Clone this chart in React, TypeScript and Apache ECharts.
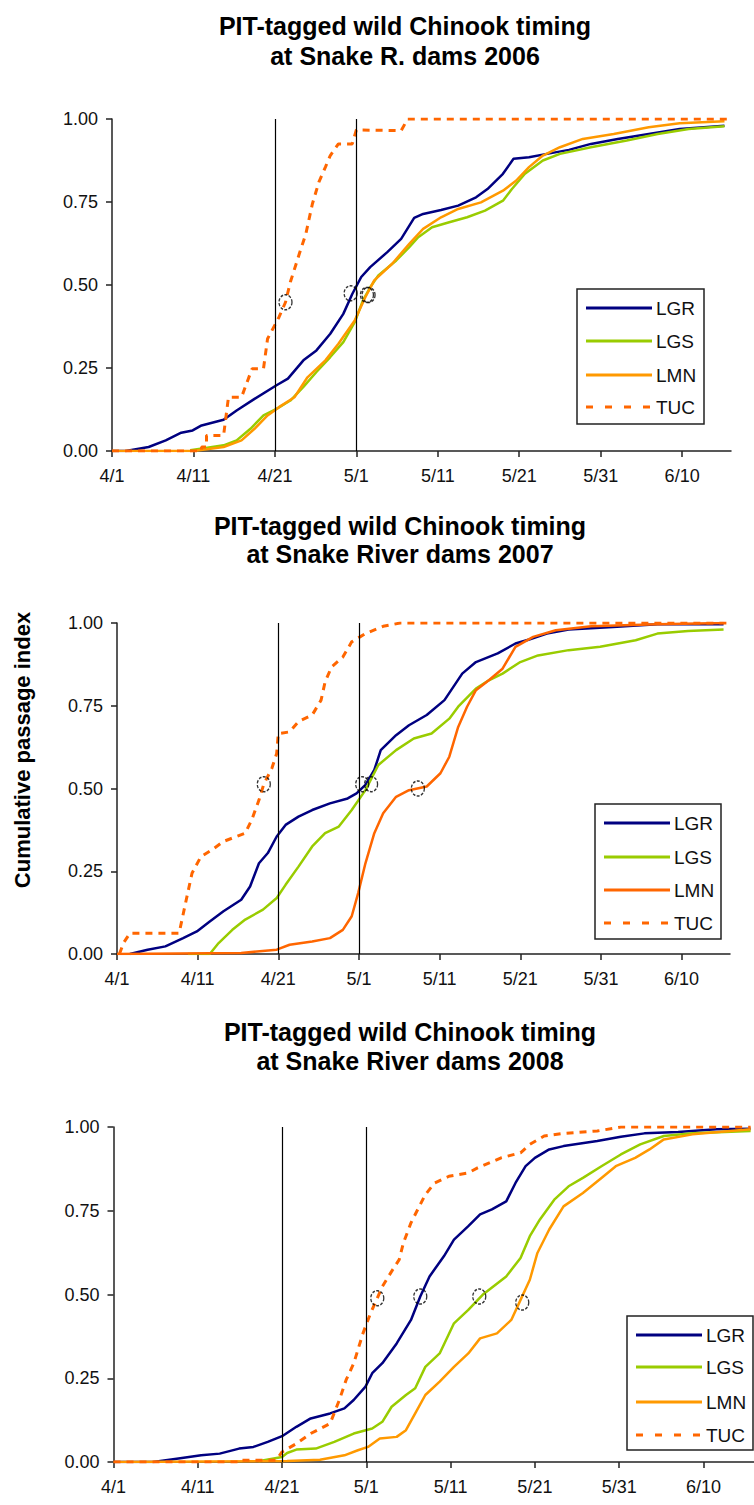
import React, { useEffect, useRef } from "react";
import * as echarts from "echarts";

// ---- axis ticks (days after 4/1) ----
const tickLabels = ["4/1", "4/11", "4/21", "5/1", "5/11", "5/21", "5/31", "6/10"];
const tickDays = tickLabels.map((_, i) => i * 10);
const refDays = [20, 30];
const seriesNames = ["LGR", "LGS", "LMN", "TUC"];

// ---- 2006 ----
const lgr2006: [number, number][] = [
  [0, 0], [1.7, 0], [4.5, 0.012], [6.6, 0.032], [8.5, 0.055], [9.9, 0.062], [11, 0.077], [13.7, 0.094],
  [15.3, 0.122], [17.5, 0.157], [20.2, 0.198], [21.6, 0.218], [23.5, 0.273], [25.1, 0.303], [26.8, 0.353],
  [28.4, 0.413], [29.5, 0.473], [30.6, 0.524], [31.7, 0.554], [33.8, 0.599], [35.5, 0.639], [37.1, 0.702],
  [38.2, 0.714], [40.4, 0.726], [42.5, 0.739], [44.7, 0.764], [46.1, 0.789], [48, 0.835], [49.3, 0.88],
  [51.2, 0.885], [53.4, 0.895], [56.1, 0.907], [58.8, 0.925], [62.1, 0.94], [65.9, 0.955], [69.7, 0.97], [75.2, 0.98],
];
const lgs2006: [number, number][] = [
  [9.6, 0.002], [11.5, 0.009], [13.7, 0.017], [15.3, 0.032], [17, 0.067], [18.6, 0.107], [20.2, 0.127],
  [21.9, 0.152], [23.5, 0.193], [25.1, 0.238], [26.8, 0.283], [28.4, 0.328], [29.8, 0.388], [30.8, 0.453],
  [31.7, 0.493], [32.7, 0.529], [34.9, 0.574], [36.5, 0.614], [37.6, 0.644], [39.3, 0.674], [41.4, 0.689],
  [43.6, 0.704], [45.8, 0.724], [48, 0.754], [49.1, 0.789], [50.7, 0.835], [52.9, 0.875], [55, 0.895],
  [58.8, 0.915], [63.2, 0.935], [67, 0.955], [70.8, 0.97], [75.2, 0.978],
];
const lmn2006: [number, number][] = [
  [0, 0], [10, 0], [13.7, 0.012], [15.9, 0.032], [17.5, 0.067], [19.1, 0.107], [20.5, 0.132], [22.4, 0.162],
  [24, 0.222], [26.2, 0.273], [27.8, 0.323], [29.8, 0.393], [31.1, 0.463], [32.2, 0.514], [34.4, 0.564],
  [36.5, 0.624], [38.2, 0.669], [40.4, 0.704], [42.5, 0.729], [45.3, 0.749], [48, 0.784], [49.6, 0.814],
  [51.2, 0.855], [52.9, 0.89], [55, 0.915], [57.8, 0.94], [61.6, 0.955], [65.9, 0.975], [69.7, 0.987], [75.2, 0.993],
];
const tuc2006: [number, number][] = [
  [0, 0], [11, 0], [11, 0.012], [11.6, 0.012], [11.6, 0.047], [13.7, 0.047], [14.3, 0.162], [15.9, 0.162],
  [17.2, 0.248], [18.6, 0.248], [19.1, 0.338], [20.5, 0.403], [21.3, 0.448], [21.9, 0.509], [23, 0.594],
  [23.8, 0.654], [24.6, 0.744], [25.4, 0.81], [26.2, 0.855], [26.8, 0.89], [27.8, 0.925], [29.5, 0.925],
  [30, 0.967], [35.5, 0.965], [36.3, 1.0], [75.6, 1.0],
];
const med2006: [number, number][] = [[21.3, 0.448], [29.3, 0.475], [31.3, 0.47], [31.5, 0.47]];

// ---- 2007 ----
const lgr2007: [number, number][] = [
  [1.6, 0], [3.8, 0.013], [6, 0.023], [8.2, 0.048], [9.9, 0.068], [11.5, 0.098], [13.2, 0.129], [15.4, 0.164],
  [16.5, 0.204], [17.6, 0.274], [18.7, 0.305], [19.8, 0.355], [20.9, 0.39], [22.5, 0.415], [24.2, 0.435],
  [26.4, 0.455], [28.6, 0.47], [29.7, 0.485], [30.8, 0.511], [31.9, 0.556], [32.7, 0.616], [34.6, 0.661],
  [36.2, 0.691], [38.4, 0.722], [40.6, 0.767], [41.7, 0.807], [42.8, 0.847], [44.5, 0.882], [47.2, 0.908],
  [49.4, 0.938], [51.1, 0.95], [53.3, 0.968], [56, 0.98], [61.5, 0.988], [67, 0.996], [75.2, 0.996],
];
const lgs2007: [number, number][] = [
  [8.8, 0], [11.5, 0], [12.6, 0.033], [14.3, 0.073], [15.9, 0.104], [18.1, 0.134], [19.8, 0.169], [20.9, 0.209],
  [22.5, 0.264], [24.2, 0.325], [25.8, 0.365], [27.5, 0.385], [29.1, 0.435], [30.8, 0.495], [32.4, 0.571],
  [34.6, 0.616], [36.8, 0.651], [39, 0.666], [41.2, 0.711], [42.3, 0.747], [44.5, 0.802], [46.1, 0.827],
  [47.8, 0.847], [50, 0.882], [52.2, 0.902], [56, 0.918], [59.9, 0.928], [64.3, 0.948], [67, 0.968],
  [70.8, 0.976], [75.2, 0.98],
];
const lmn2007: [number, number][] = [
  [0, 0], [15.4, 0.003], [19.8, 0.013], [21.4, 0.028], [24.2, 0.038], [26.4, 0.048], [28, 0.073], [29.1, 0.114],
  [29.9, 0.184], [30.8, 0.274], [31.9, 0.365], [33, 0.425], [34.6, 0.475], [36.2, 0.495], [38.4, 0.506],
  [40.1, 0.546], [41.2, 0.596], [42.3, 0.686], [43.4, 0.747], [44.5, 0.797], [46.1, 0.827], [47.8, 0.862],
  [49.4, 0.928], [51.6, 0.958], [54.4, 0.978], [58.8, 0.99], [67, 0.996], [75.2, 1.0],
];
const tuc2007: [number, number][] = [
  [0.3, 0], [0.8, 0.033], [1.6, 0.063], [7.7, 0.063], [8.5, 0.154], [9.3, 0.244], [10.4, 0.294], [11.8, 0.315],
  [13.2, 0.34], [15.9, 0.365], [16.7, 0.405], [17.6, 0.465], [18.2, 0.513], [19.2, 0.561], [19.8, 0.606],
  [20, 0.666], [21.4, 0.671], [22.5, 0.702], [24.2, 0.722], [25.3, 0.767], [25.8, 0.822], [26.6, 0.867],
  [28, 0.897], [29.1, 0.943], [30.8, 0.968], [33, 0.99], [35.1, 1.0], [75.6, 1.0],
];
const med2007: [number, number][] = [[18.2, 0.513], [30.4, 0.513], [31.5, 0.513], [37.3, 0.5]];

// ---- 2008 ----
const lgr2008: [number, number][] = [
  [0, 0], [4.7, 0], [7.5, 0.01], [10.4, 0.02], [12.6, 0.025], [14.9, 0.04], [16.6, 0.045], [18.3, 0.06],
  [20, 0.077], [21.7, 0.105], [23.4, 0.13], [25.7, 0.145], [27.4, 0.16], [28.5, 0.185], [29.9, 0.225],
  [30.7, 0.265], [31.9, 0.295], [33.6, 0.354], [35.3, 0.424], [36.4, 0.494], [37.5, 0.554], [39.2, 0.614],
  [40.4, 0.664], [42.1, 0.704], [43.5, 0.739], [44.9, 0.754], [46.6, 0.778], [47.7, 0.833], [48.9, 0.883],
  [50, 0.908], [51.7, 0.933], [53.4, 0.943], [57.4, 0.958], [60.2, 0.971], [63, 0.981], [67, 0.985],
  [71.5, 0.993], [75.6, 0.995],
];
const lgs2008: [number, number][] = [
  [17.2, 0.002], [20, 0.015], [20.6, 0.027], [21.7, 0.037], [24, 0.04], [26.2, 0.06], [28.5, 0.085], [30.7, 0.1],
  [31.9, 0.12], [33, 0.165], [34.7, 0.2], [35.8, 0.22], [37, 0.284], [38.7, 0.324], [40.4, 0.414], [42.1, 0.454],
  [43.8, 0.499], [46.6, 0.554], [48.3, 0.609], [49.4, 0.674], [50.6, 0.724], [52.3, 0.783], [54, 0.823],
  [55.7, 0.848], [57.9, 0.883], [60.2, 0.918], [62.5, 0.948], [65.3, 0.973], [68.7, 0.981], [75.6, 0.988],
];
const lmn2008: [number, number][] = [
  [0, 0], [20.6, 0.003], [24.5, 0.007], [27.4, 0.02], [29, 0.035], [30.2, 0.045], [31.6, 0.07], [33.6, 0.075],
  [34.7, 0.095], [35.8, 0.145], [37, 0.2], [38.7, 0.24], [40.4, 0.284], [42.1, 0.324], [43.5, 0.369],
  [45.5, 0.384], [47.2, 0.424], [48.3, 0.484], [49.4, 0.544], [50.3, 0.624], [51.7, 0.694], [53.4, 0.763],
  [55.7, 0.803], [57.9, 0.848], [59.6, 0.883], [61.9, 0.908], [63.6, 0.933], [65.3, 0.963], [68.7, 0.978], [75.6, 0.993],
];
const tuc2008: [number, number][] = [
  [0, 0], [14.9, 0], [15, 0.005], [19.3, 0.005], [20, 0.03], [21.7, 0.055], [23.4, 0.085], [25.7, 0.115],
  [26.8, 0.185], [27.6, 0.245], [28.5, 0.294], [29.6, 0.384], [30.5, 0.444], [31.3, 0.489], [31.9, 0.524],
  [33, 0.569], [33.9, 0.604], [34.4, 0.654], [35.3, 0.714], [36.1, 0.754], [37, 0.798], [38.1, 0.833],
  [39.8, 0.853], [42.1, 0.863], [43.2, 0.878], [46, 0.908], [48.3, 0.923], [49.4, 0.948], [51.1, 0.973],
  [53.4, 0.981], [57.4, 0.988], [60.2, 1.0], [75.6, 1.0],
];
const med2008: [number, number][] = [[31.3, 0.489], [36.4, 0.494], [43.4, 0.494], [48.5, 0.476]];

const FONT = '"Liberation Sans", Arial, sans-serif';

const panels = [
  {
    title: ["PIT-tagged wild Chinook timing", "at Snake R. dams 2006"], titleX: 405, titleY: [26, 56],
    left: 112, top: 119, width: 619, height: 332,
    data: [lgr2006, lgs2006, lmn2006, tuc2006], med: med2006,
    colors: ["#000080", "#99CC00", "#FF9900", "#FF6600"],
    legend: { x: 577, y: 289, w: 127, h: 135, rows: [308, 341, 375, 407] },
  },
  {
    title: ["PIT-tagged wild Chinook timing", "at Snake River dams 2007"], titleX: 400, titleY: [526, 554],
    left: 117, top: 623, width: 613, height: 331,
    data: [lgr2007, lgs2007, lmn2007, tuc2007], med: med2007,
    colors: ["#000080", "#99CC00", "#FF6600", "#FF6600"],
    legend: { x: 595, y: 804, w: 126, h: 135, rows: [823, 857, 890, 923] },
  },
  {
    title: ["PIT-tagged wild Chinook timing", "at Snake River dams 2008"], titleX: 410, titleY: [1032, 1061],
    left: 113.5, top: 1127, width: 646, height: 335,
    data: [lgr2008, lgs2008, lmn2008, tuc2008], med: med2008,
    colors: ["#000080", "#99CC00", "#FF9900", "#FF6600"],
    legend: { x: 627, y: 1316, w: 126, h: 134, rows: [1335, 1367, 1402, 1435] },
  },
];

export default function App() {
  const ref = useRef<HTMLDivElement>(null);
  useEffect(() => {
    if (!ref.current) return;
    const chart = echarts.init(ref.current, null, { renderer: "svg" });
    const axisColor = "#222";
    const grid = panels.map((p) => ({ left: p.left, top: p.top, width: p.width, height: p.height }));
    const xAxis = panels.map((p, i) => ({
      type: "value", gridIndex: i, min: 0, max: 76,
      axisLine: { show: true, onZero: false, lineStyle: { color: axisColor, width: 1.5 } },
      axisTick: { show: true, length: 6, inside: false, customValues: tickDays, lineStyle: { color: axisColor, width: 1.5 } },
      axisLabel: {
        customValues: tickDays, margin: 16, fontSize: 18, fontFamily: FONT, color: "#111",
        formatter: (v: number) => tickLabels[Math.round(v / 10)] ?? "",
      },
      splitLine: { show: false },
    }));
    const yAxis = panels.map((p, i) => ({
      type: "value", gridIndex: i, min: 0, max: 1, interval: 0.25,
      axisLine: { show: true, onZero: false, lineStyle: { color: axisColor, width: 1.5 } },
      axisTick: { show: true, length: 6, lineStyle: { color: axisColor, width: 1.5 } },
      axisLabel: { margin: 14, fontSize: 18, fontFamily: FONT, color: "#111", formatter: (v: number) => v.toFixed(2) },
      splitLine: { show: false },
    }));
    const series: any[] = [];
    panels.forEach((p, i) => {
      p.data.forEach((d, k) => {
        const isTuc = k === 3;
        series.push({
          type: "line", name: seriesNames[k], xAxisIndex: i, yAxisIndex: i, data: d,
          symbol: "none", smooth: false, silent: true, z: 3,
          lineStyle: { color: p.colors[k], width: isTuc ? 3 : 2.5, type: isTuc ? [7, 6] : "solid" },
          ...(k === 0
            ? {
                markLine: {
                  silent: true, symbol: "none", label: { show: false },
                  lineStyle: { color: "#000", width: 1.2, type: "solid" },
                  data: refDays.map((d2) => ({ xAxis: d2 })),
                },
              }
            : {}),
        });
      });
      series.push({
        type: "scatter", name: "median", xAxisIndex: i, yAxisIndex: i, data: p.med, silent: true, z: 5,
        symbol: "circle", symbolSize: [13, 15],
        itemStyle: { color: "rgba(0,0,0,0)", borderColor: "#000", borderWidth: 1.4, borderType: [3, 1.5] },
      });
    });

    const graphic: any[] = [];
    panels.forEach((p) => {
      p.title.forEach((t, j) => {
        graphic.push({
          type: "text", x: p.titleX, y: p.titleY[j], z: 10,
          style: { text: t, fontSize: 25, fontWeight: "bold", fontFamily: FONT, fill: "#000", align: "center", verticalAlign: "middle" },
        });
      });
      const L = p.legend;
      graphic.push({
        type: "rect", z: 20, shape: { x: L.x, y: L.y, width: L.w, height: L.h },
        style: { fill: "#fff", stroke: "#222", lineWidth: 1.5 },
      });
      seriesNames.forEach((n, k) => {
        const isTuc = k === 3;
        graphic.push({
          type: "line", z: 21,
          shape: { x1: L.x + 9, y1: L.rows[k], x2: L.x + 75, y2: L.rows[k] },
          style: { stroke: p.colors[k], lineWidth: 3, lineDash: isTuc ? [7, 12] : null },
        });
        graphic.push({
          type: "text", z: 21, x: L.x + 79, y: L.rows[k],
          style: { text: n, fontSize: 19, fontFamily: FONT, fill: "#111", align: "left", verticalAlign: "middle" },
        });
      });
    });
    graphic.push({
      type: "text", x: 22, y: 750, rotation: Math.PI / 2, z: 10,
      style: { text: "Cumulative passage index", fontSize: 22, fontWeight: "bold", fontFamily: FONT, fill: "#000", align: "center", verticalAlign: "middle" },
    });

    chart.setOption({ animation: false, backgroundColor: "#fff", grid, xAxis, yAxis, series, graphic });
    return () => chart.dispose();
  }, []);
  return <div ref={ref} style={{ position: "absolute", left: 0, top: 0, width: 754, height: 1505 }} />;
}
